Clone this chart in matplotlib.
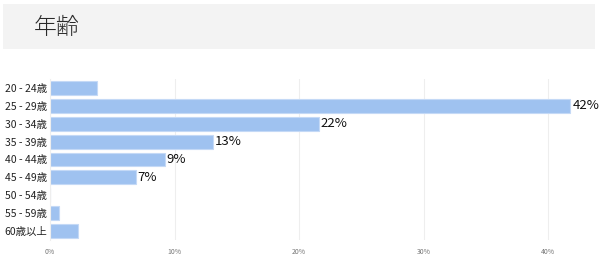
import matplotlib
matplotlib.use("Agg")
import matplotlib.pyplot as plt
from matplotlib.patches import Rectangle

plt.rcParams['font.family'] = ['Noto Sans CJK JP', 'DejaVu Sans']

title = "年齢"
categories = ["20 - 24歳", "25 - 29歳", "30 - 34歳", "35 - 39歳", "40 - 44歳",
              "45 - 49歳", "50 - 54歳", "55 - 59歳", "60歳以上"]
values = [3.8, 41.8, 21.6, 13.1, 9.2, 6.9, 0.0, 0.7, 2.25]
labels = ["", "42%", "22%", "13%", "9%", "7%", "", "", ""]
xticks = [0, 10, 20, 30, 40]
xticklabels = ["0%", "10%", "20%", "30%", "40%"]

fig = plt.figure(figsize=(6.0, 2.72), dpi=100)
W, H = 600, 272

# header box
fig.patches.append(Rectangle((3 / W, 1 - 49 / H), 592 / W, 45 / H,
                             transform=fig.transFigure, facecolor='#f3f3f3',
                             edgecolor='none', zorder=0))
fig.text(34 / W, 1 - 27 / H, title, fontsize=16.5, color='#2a2a2a',
         va='center', ha='left', fontweight='light')

ax = fig.add_axes([50 / W, 1 - 240 / H, 541.6 / W, 161 / H])
y = list(range(len(categories)))
ax.barh(y, values, height=0.78, color='#9fc2f0', edgecolor='#c4d9f6',
        linewidth=0.8, zorder=2)
for yi, v, lab in zip(y, values, labels):
    if lab:
        ax.text(v + 0.15, yi, lab, va='center', ha='left', fontsize=9.5,
                color='#111111')

ax.set_ylim(len(categories) - 0.5, -0.5)
ax.set_xlim(0, 43.5)
ax.set_yticks(y)
ax.set_yticklabels(categories, fontsize=7.5, color='#222222')
ax.set_xticks(xticks)
ax.set_xticklabels(xticklabels, fontsize=5, color='#777777')
ax.tick_params(axis='both', length=0)
ax.tick_params(axis='y', pad=2)
ax.tick_params(axis='x', pad=6)
ax.grid(axis='x', color='#eeeeee', linewidth=0.8, zorder=0)
for s in ['top', 'right', 'bottom']:
    ax.spines[s].set_visible(False)
ax.spines['left'].set_color('#eeeeee')
ax.spines['left'].set_linewidth(0.8)
ax.set_facecolor('white')

fig.savefig("out.png", dpi=100)
